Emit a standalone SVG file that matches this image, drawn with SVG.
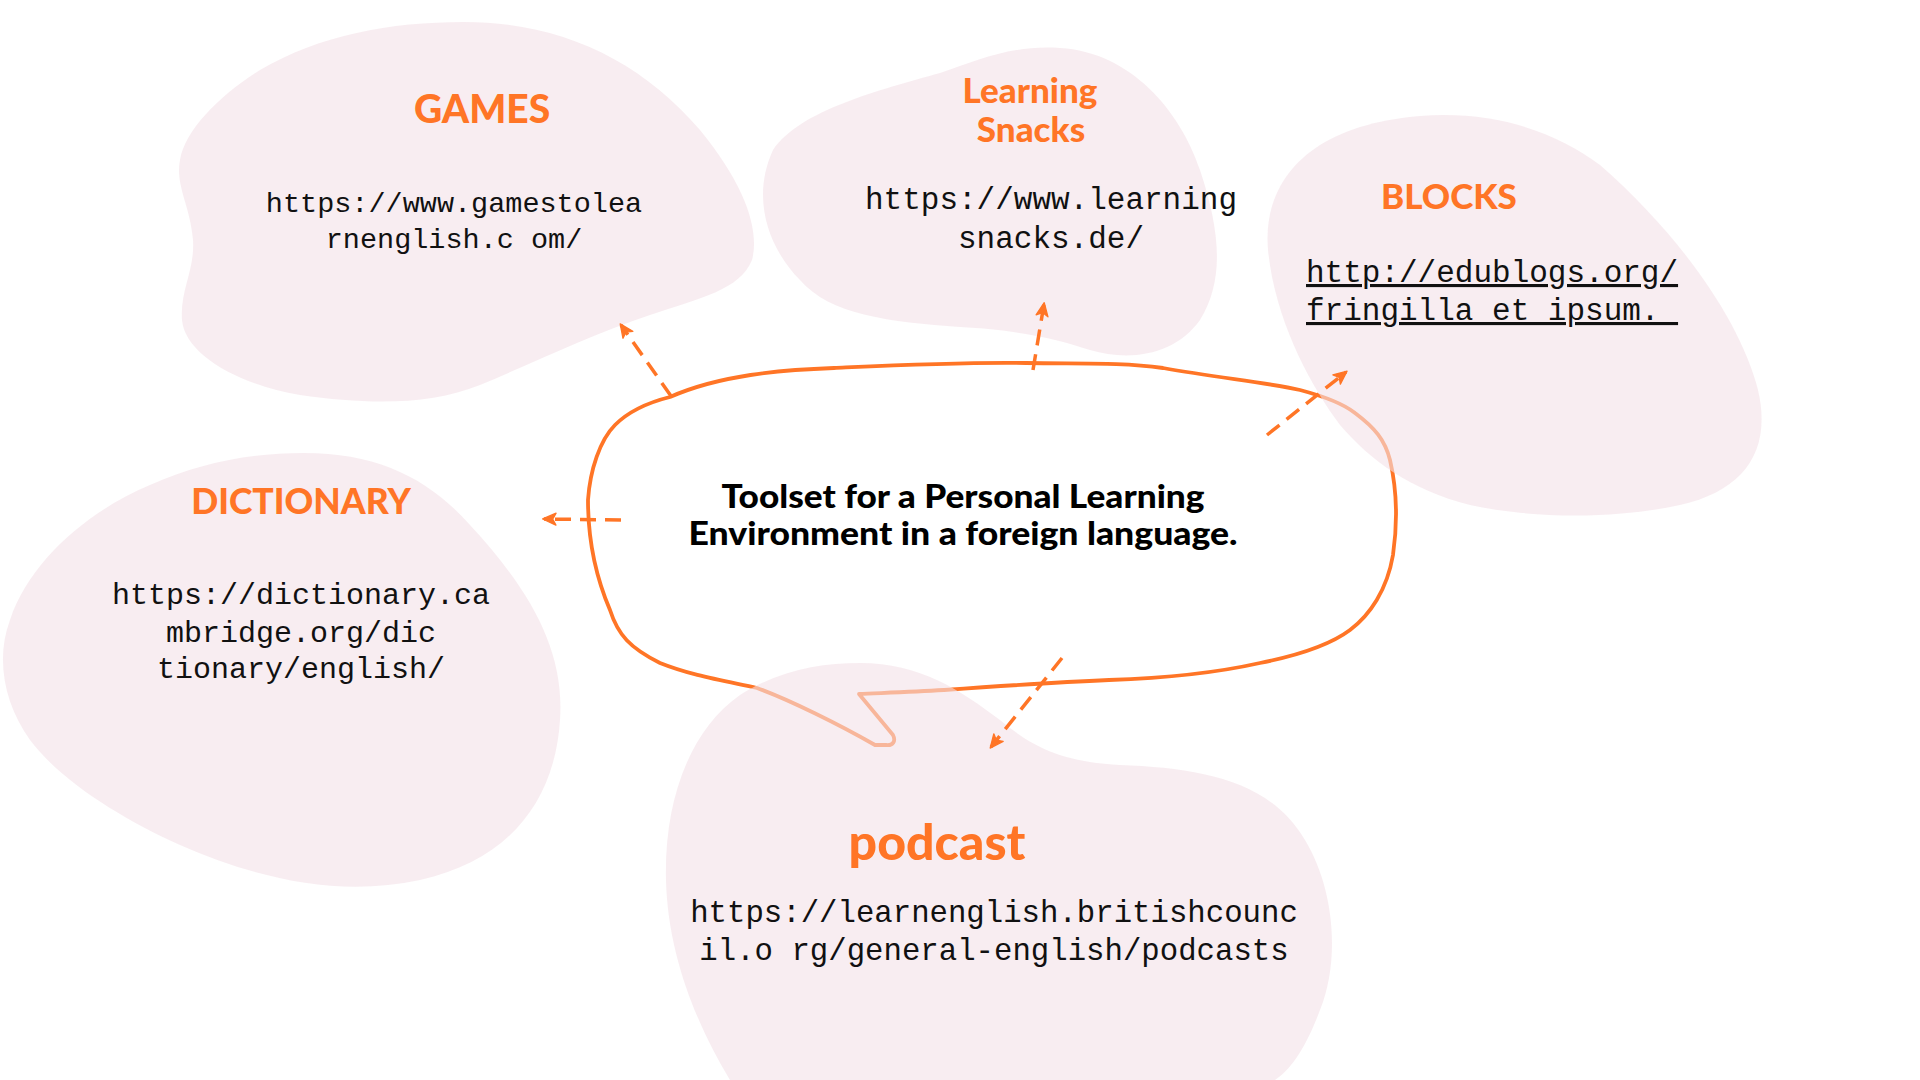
<svg xmlns="http://www.w3.org/2000/svg" width="1920" height="1080" viewBox="0 0 1920 1080">
<defs>
<style>
.blob{fill:rgb(243,225,232);fill-opacity:0.6}
.head{font-family:Lato,"Noto Sans",sans-serif;font-weight:900;fill:#FF7526;text-anchor:middle}
.url{font-family:"Liberation Mono","DejaVu Sans Mono",monospace;fill:#111;text-anchor:middle}
.center{font-family:Lato,"Noto Sans",sans-serif;font-weight:900;fill:#000;text-anchor:middle;font-size:32px}
.conn{fill:none;stroke:#FF7526;stroke-width:3.5;stroke-dasharray:16 9}
.bubble{fill:none;stroke:#FF7526;stroke-width:3.8;stroke-linejoin:round}
</style>
<marker id="ah" viewBox="0 0 12 12" refX="10" refY="6" markerWidth="16" markerHeight="16" orient="auto" markerUnits="userSpaceOnUse">
<path d="M1,1.5 L11,6 L1,10.5 L3.5,6 Z" fill="#FF7526" stroke="#FF7526" stroke-width="1" stroke-linejoin="round"/>
</marker>
</defs>
<rect width="1920" height="1080" fill="#fff"/>

<g id="center-bubble">
<path class="bubble" d="M 670,397 C 720,375 780,370 834,368 C 900,365 960,362 1026,363 C 1080,364 1120,362 1163,368 C 1220,378 1270,383 1300,390 C 1330,398 1345,405 1355,413 C 1375,428 1385,440 1390,460 C 1397,490 1398,520 1393,555 C 1387,590 1370,615 1350,630 C 1330,645 1300,655 1260,663 C 1220,672 1170,678 1109,680 C 1060,682 1000,686 944,690 C 910,692 880,693 859,694 L 893,735 C 896,741 893,746 886,745 L 875,745 C 840,725 790,700 757,688 C 720,680 690,675 660,663 C 630,648 618,635 610,610 C 595,575 588,540 588,500 C 590,470 600,440 615,425 C 630,410 650,402 670,397 Z"/>
</g>

<g id="games">
<path class="blob" d="M 464,22 C 560,22 640,60 700,130 C 745,185 760,230 752,260 C 740,290 700,298 650,315 C 590,335 540,360 480,385 C 430,405 370,405 300,395 C 240,385 185,355 182,320 C 180,290 195,270 193,240 C 190,205 175,185 180,160 C 185,130 220,95 260,70 C 320,35 390,22 464,22 Z"/>
</g>
<g id="learning-snacks">
<path class="blob" d="M 773,150 C 800,110 880,90 940,73 C 980,60 1010,45 1060,48 C 1130,52 1180,110 1200,170 C 1220,230 1225,280 1200,320 C 1175,355 1130,362 1090,350 C 1060,340 1020,330 960,327 C 890,322 830,315 800,280 C 770,250 750,200 773,150 Z"/>
</g>
<g id="blocks">
<path class="blob" d="M 1268,250 C 1262,180 1310,125 1420,116 C 1500,110 1560,135 1600,165 C 1680,235 1740,320 1758,390 C 1772,450 1745,490 1680,505 C 1620,518 1540,520 1470,505 C 1410,490 1370,460 1340,425 C 1310,385 1275,320 1268,250 Z"/>
</g>
<g id="dictionary">
<path class="blob" d="M 304,453 C 380,453 430,480 470,525 C 530,590 565,650 560,720 C 555,800 510,860 420,880 C 340,897 260,880 180,845 C 120,818 60,780 30,740 C 5,705 -5,660 10,620 C 30,560 90,510 150,485 C 200,463 250,453 304,453 Z"/>
</g>
<g id="podcast">
<path class="blob" d="M 860,663 C 920,663 960,690 1000,720 C 1030,745 1060,762 1120,765 C 1200,768 1270,780 1305,840 C 1335,890 1340,960 1320,1010 C 1305,1050 1290,1070 1275,1080 L 730,1080 C 700,1030 668,960 666,880 C 664,800 690,730 740,695 C 780,670 820,663 860,663 Z"/>
</g>

<g id="connectors">
<line class="conn" x1="671" y1="396" x2="621" y2="325" marker-end="url(#ah)"/>
<line class="conn" x1="1033" y1="370" x2="1044" y2="304" marker-end="url(#ah)"/>
<line class="conn" x1="1267" y1="435" x2="1346" y2="372" marker-end="url(#ah)"/>
<line class="conn" x1="621" y1="520" x2="544" y2="519" marker-end="url(#ah)"/>
<line class="conn" x1="1062" y1="658" x2="991" y2="747" marker-end="url(#ah)"/>
</g>

<g id="labels">
<text class="center" x="963" y="508" textLength="483" lengthAdjust="spacingAndGlyphs">Toolset for a Personal Learning</text>
<text class="center" x="963" y="545" textLength="549" lengthAdjust="spacingAndGlyphs">Environment in a foreign language.</text>

<text class="head" x="482" y="123" font-size="39">GAMES</text>
<text class="url" font-size="28.5" xml:space="preserve"><tspan x="454" y="212">https://www.gamestolea</tspan><tspan x="454" y="248">rnenglish.c om/</tspan></text>

<text class="head" x="1030" y="103" font-size="35">Learning</text>
<text class="head" x="1031" y="142" font-size="35">Snacks</text>
<text class="url" font-size="31"><tspan x="1051" y="209">https://www.learning</tspan><tspan x="1051" y="248">snacks.de/</tspan></text>

<text class="head" x="1449" y="209" font-size="35">BLOCKS</text>
<text class="url" font-size="31" style="text-anchor:start;text-decoration:underline" xml:space="preserve"><tspan x="1306" y="282">http://edublogs.org/</tspan><tspan x="1306" y="320">fringilla et ipsum. </tspan></text>

<text class="head" x="301" y="514" font-size="35.5">DICTIONARY</text>
<text class="url" font-size="30"><tspan x="301" y="604">https://dictionary.ca</tspan><tspan x="301" y="642">mbridge.org/dic</tspan><tspan x="301" y="678">tionary/english/</tspan></text>

<text class="head" x="937" y="860" font-size="50">podcast</text>
<text class="url" font-size="30.7" xml:space="preserve"><tspan x="994" y="922">https://learnenglish.britishcounc</tspan><tspan x="994" y="960">il.o rg/general-english/podcasts</tspan></text>
</g>
</svg>
